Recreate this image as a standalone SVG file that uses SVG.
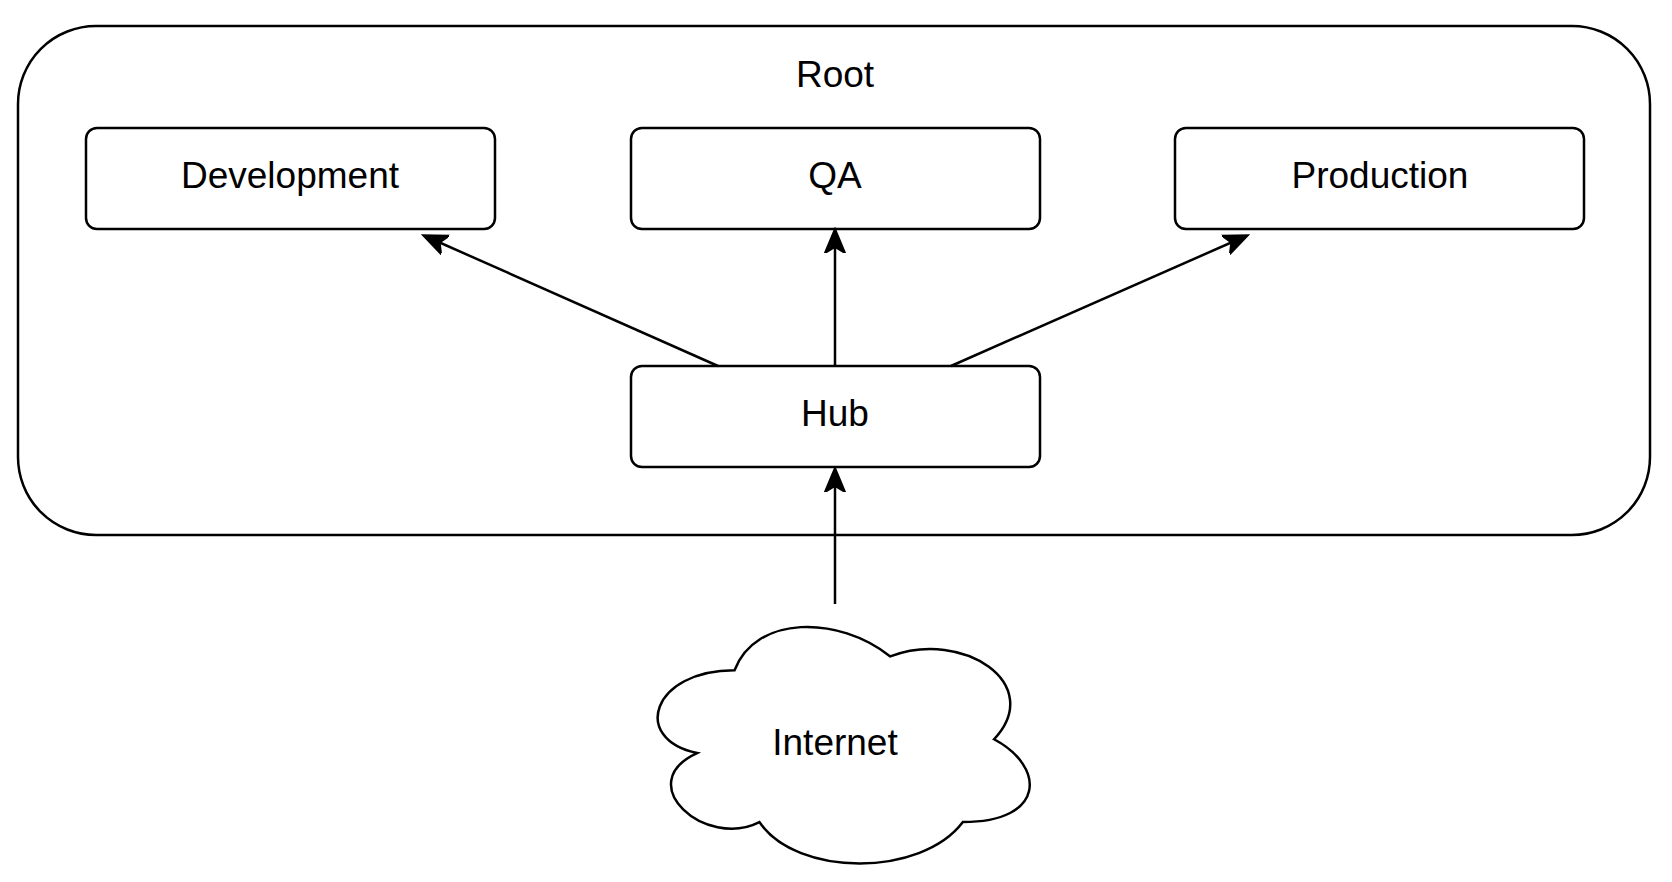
<svg xmlns="http://www.w3.org/2000/svg" width="1672" height="882" viewBox="0 0 1672 882">
<style>
.b{fill:#fff;stroke:#000;stroke-width:2.5}
.t{font-family:"Liberation Sans",Arial,sans-serif;font-size:37px;text-anchor:middle;dominant-baseline:central;fill:#000}
.c{stroke:#000;stroke-width:2.5;fill:none;marker-end:url(#a)}
</style>
<defs><marker id="a" markerWidth="26" markerHeight="26" refX="22" refY="13" orient="auto" markerUnits="userSpaceOnUse" viewBox="0 0 26 26"><path d="M0,3 L24,13 L0,23 L6,13 Z" fill="#000" stroke="#000" stroke-width="2"/></marker></defs>
<rect width="1672" height="882" fill="#fff"/>
<g id="root"><rect class="b" x="18" y="26" width="1632" height="509" rx="78"/><text class="t" x="835" y="74">Root</text></g>
<g id="dev"><rect class="b" x="86" y="128" width="409" height="101" rx="11"/><text class="t" x="290" y="175">Development</text></g>
<g id="qa"><rect class="b" x="631" y="128" width="409" height="101" rx="11"/><text class="t" x="835" y="175">QA</text></g>
<g id="prod"><rect class="b" x="1175" y="128" width="409" height="101" rx="11"/><text class="t" x="1380" y="175">Production</text></g>
<g id="hub"><rect class="b" x="631" y="366" width="409" height="101" rx="11"/><text class="t" x="835" y="413">Hub</text></g>
<g id="internet"><path class="b" vector-effect="non-scaling-stroke" transform="translate(835,745) scale(1.11,1.15) translate(-835,-750)" d="M744.5,685 C669.7,685 651,745 710.8,757 C651,783.4 718.3,841 766.9,817 C800.6,865 912.8,865 950.2,817 C1025,817 1025,769 978.3,745 C1025,697 950.2,649 884.8,673 C838,637 763.2,637 744.5,685 Z"/><text class="t" x="835" y="742">Internet</text></g>
<g id="connectors">
<line class="c" x1="718" y1="366" x2="425" y2="236"/>
<line class="c" x1="835" y1="366" x2="835" y2="231"/>
<line class="c" x1="951" y1="366" x2="1246" y2="236"/>
<line class="c" x1="835" y1="604" x2="835" y2="470"/>
</g>
</svg>
